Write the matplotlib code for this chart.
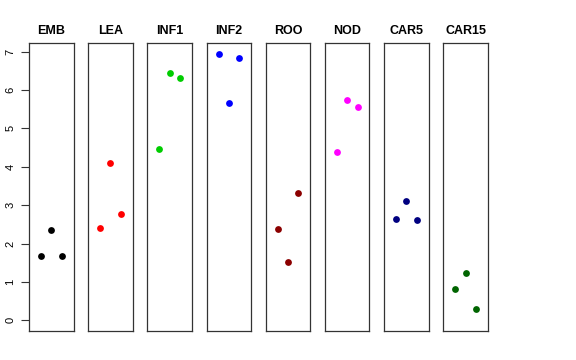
import matplotlib
matplotlib.use("Agg")
import matplotlib.pyplot as plt

tissues = ["EMB", "LEA", "INF1", "INF2", "ROO", "NOD", "CAR5", "CAR15"]
colors = ["black", "red", "#00CD00", "blue", "#8B0000", "magenta", "#000080", "#006400"]
reps = [1, 2, 3]
values = {
    "EMB":   [1.67, 2.35, 1.68],
    "LEA":   [2.40, 4.11, 2.77],
    "INF1":  [4.47, 6.44, 6.31],
    "INF2":  [6.94, 5.67, 6.83],
    "ROO":   [2.39, 1.51, 3.32],
    "NOD":   [4.38, 5.75, 5.56],
    "CAR5":  [2.64, 3.10, 2.62],
    "CAR15": [0.81, 1.24, 0.30],
}
yticks = [0, 1, 2, 3, 4, 5, 6, 7]

W, H = 576, 360
fig = plt.figure(figsize=(W / 100, H / 100), dpi=100)
plt.rcParams['font.family'] = ['Liberation Sans', 'DejaVu Sans']

ymax = max(max(v) for v in values.values())
ylo, yhi = 0 - 0.04 * ymax, ymax * 1.04
left0, pitch, pw = 29, 59.19, 44.5
bottom, top = 331, 43.3

for i, (t, c) in enumerate(zip(tissues, colors)):
    x0 = left0 + pitch * i
    ax = fig.add_axes([x0 / W, (H - bottom) / H, pw / W, (bottom - top) / H])
    ax.scatter(reps, values[t], s=24, color=c, zorder=3, linewidths=0)
    ax.set_xlim(-0.16, 4.16)
    ax.set_ylim(ylo, yhi)
    ax.set_xticks([])
    for sp in ax.spines.values():
        sp.set_color("#333333")
        sp.set_linewidth(0.9)
    ax.set_title(t, fontsize=9, fontweight="bold", pad=7)
    if i == 0:
        ax.set_yticks(yticks)
        ax.set_yticklabels([str(v) for v in yticks], rotation=90, va="center", fontsize=8)
        ax.tick_params(axis="y", length=5.8, width=0.8, pad=4, color="#333333")
    else:
        ax.set_yticks([])

fig.savefig("out.png", dpi=100)
